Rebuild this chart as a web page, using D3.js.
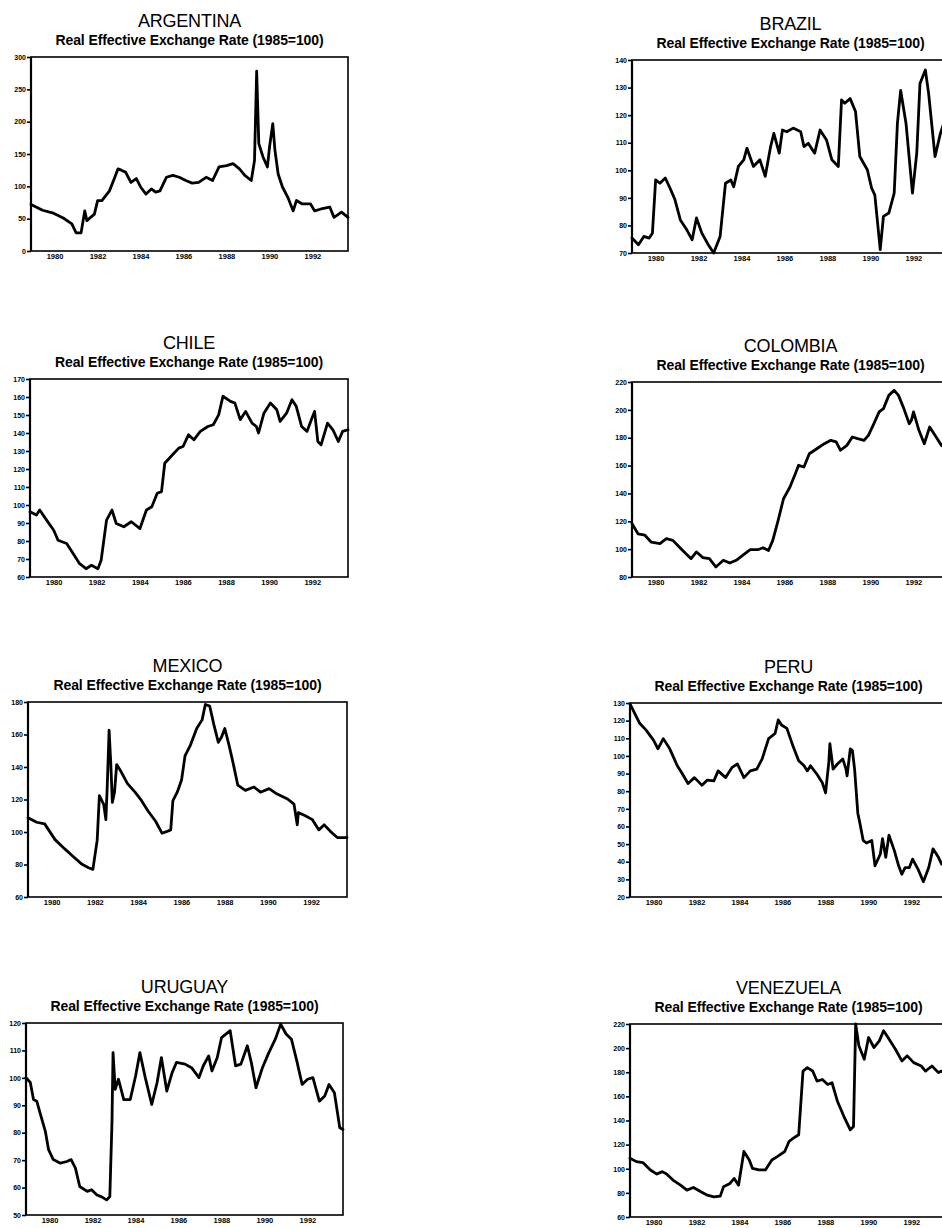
<!DOCTYPE html>
<html>
<head>
<meta charset="utf-8">
<script src="https://cdn.jsdelivr.net/npm/d3@7"></script>
<style>
  html, body { margin: 0; padding: 0; background: #fff; }
  svg { display: block; }
</style>
</head>
<body>
<svg id="chart" width="942" height="1228"></svg>
<script>
// ---------------- DATA ----------------
const countries = ["ARGENTINA", "BRAZIL", "CHILE", "COLOMBIA", "MEXICO", "PERU", "URUGUAY", "VENEZUELA"];
const subtitle = "Real Effective Exchange Rate (1985=100)";
const yearTicks = [1980, 1982, 1984, 1986, 1988, 1990, 1992];

// y-axis tick values for each panel
const argentinaTicks = [0, 50, 100, 150, 200, 250, 300];
const brazilTicks = [70, 80, 90, 100, 110, 120, 130, 140];
const chileTicks = [60, 70, 80, 90, 100, 110, 120, 130, 140, 150, 160, 170];
const colombiaTicks = [80, 100, 120, 140, 160, 180, 200, 220];
const mexicoTicks = [60, 80, 100, 120, 140, 160, 180];
const peruTicks = [20, 30, 40, 50, 60, 70, 80, 90, 100, 110, 120, 130];
const uruguayTicks = [50, 60, 70, 80, 90, 100, 110, 120];
const venezuelaTicks = [60, 80, 100, 120, 140, 160, 180, 200, 220];

// series: [decimal year, index value]
const argentina = [[1979.0,72],[1979.54,63],[1980.0,59],[1980.5,51],[1980.9,42],[1981.1,28],[1981.33,28],[1981.5,62],[1981.6,47],[1981.95,57],[1982.1,78],[1982.3,78],[1982.65,93],[1982.9,114],[1983.05,127],[1983.2,125],[1983.4,122],[1983.65,106],[1983.9,112],[1984.1,99],[1984.35,88],[1984.6,96],[1984.8,91],[1985.0,93],[1985.3,114],[1985.6,117],[1985.9,114],[1986.2,109],[1986.5,105],[1986.8,106],[1987.15,114],[1987.45,109],[1987.75,130],[1988.1,132],[1988.4,135],[1988.7,127],[1988.95,117],[1989.25,109],[1989.4,140],[1989.5,278],[1989.6,166],[1989.8,145],[1990.0,130],[1990.1,161],[1990.25,197],[1990.35,156],[1990.5,119],[1990.7,99],[1990.95,83],[1991.2,62],[1991.35,78],[1991.6,73],[1992.0,73],[1992.2,62],[1992.5,65],[1992.9,68],[1993.1,52],[1993.45,60],[1993.75,52]];
const brazil = [[1979.0,75.5],[1979.08,74.8],[1979.3,73],[1979.55,76],[1979.8,75.4],[1979.95,77.2],[1980.1,96.5],[1980.3,95.3],[1980.55,97.2],[1980.8,93],[1981.0,89.3],[1981.25,82],[1981.55,78.4],[1981.8,74.8],[1982.0,82.7],[1982.25,77.2],[1982.55,73],[1982.8,70],[1983.1,76],[1983.35,95.3],[1983.6,96.5],[1983.73,94],[1983.95,101.4],[1984.2,103.8],[1984.35,108],[1984.65,101.4],[1984.95,103.8],[1985.2,97.8],[1985.45,108.6],[1985.6,113.4],[1985.85,106.2],[1986.0,114.6],[1986.2,114],[1986.5,115.3],[1986.85,114],[1987.0,108.6],[1987.2,109.8],[1987.5,106.2],[1987.75,114.6],[1988.05,111],[1988.3,103.8],[1988.6,101.4],[1988.75,125.5],[1988.9,124.3],[1989.15,126],[1989.4,121.3],[1989.6,105],[1989.95,100.2],[1990.15,93.5],[1990.3,91],[1990.55,71.2],[1990.7,83.3],[1990.95,84.5],[1991.2,91.7],[1991.35,117],[1991.5,129],[1991.75,117],[1992.05,91.7],[1992.25,106.2],[1992.4,131.5],[1992.65,136.4],[1992.8,128],[1993.1,105],[1993.35,113.4],[1993.5,117],[1993.75,120]];
const chile = [[1979.0,96.2],[1979.3,94.4],[1979.45,97.2],[1979.77,91.6],[1980.1,86],[1980.3,80.4],[1980.7,78.6],[1981.0,73],[1981.3,67.4],[1981.6,64.6],[1981.85,66.5],[1982.15,64.6],[1982.3,69.3],[1982.55,91.6],[1982.8,97.2],[1983.0,89.7],[1983.35,87.9],[1983.7,90.7],[1984.1,86.9],[1984.4,97.2],[1984.65,99],[1984.9,106.5],[1985.1,107.4],[1985.25,123.2],[1985.6,127.8],[1985.9,131.6],[1986.1,132.5],[1986.35,139],[1986.6,136.2],[1986.9,140.9],[1987.25,143.6],[1987.5,144.6],[1987.75,150.1],[1987.95,160.4],[1988.3,157.6],[1988.5,156.7],[1988.75,147.4],[1989.0,152],[1989.3,145.5],[1989.5,143.6],[1989.6,140],[1989.85,151],[1990.15,156.7],[1990.45,152.9],[1990.6,146.4],[1990.9,151],[1991.15,158.5],[1991.35,154.8],[1991.6,143.6],[1991.85,140.9],[1992.05,147.4],[1992.2,152],[1992.35,135.3],[1992.5,133.4],[1992.8,145.5],[1993.05,141.8],[1993.3,135.3],[1993.5,140.9],[1993.75,141.8]];
const colombia = [[1979.0,118.3],[1979.28,111],[1979.6,110],[1979.9,105],[1980.3,104],[1980.6,107.5],[1980.9,106.3],[1981.2,101.5],[1981.5,96.8],[1981.75,93.2],[1982.0,98],[1982.3,93.9],[1982.6,93.2],[1982.9,87.2],[1983.25,92],[1983.55,90],[1983.85,92],[1984.15,95.6],[1984.5,99.6],[1984.85,99.6],[1985.1,101],[1985.35,99],[1985.55,106.3],[1985.8,120.7],[1986.05,136.2],[1986.35,144.6],[1986.6,154.2],[1986.75,160.2],[1987.0,159],[1987.25,168.5],[1987.6,172.1],[1987.95,175.7],[1988.25,178.1],[1988.5,177],[1988.7,171],[1989.0,174.5],[1989.25,180.5],[1989.5,179.3],[1989.8,178.1],[1990.0,181.7],[1990.25,190],[1990.5,198.5],[1990.7,200.9],[1990.95,210.4],[1991.2,214],[1991.4,210.4],[1991.65,200.9],[1991.9,190],[1992.0,192.5],[1992.1,198.5],[1992.35,185.3],[1992.6,175.7],[1992.85,187.7],[1993.15,180.5],[1993.4,174.5],[1993.75,172]];
const mexico = [[1979.0,108.7],[1979.4,106],[1979.77,105],[1980.25,95.3],[1980.7,89.6],[1981.1,84.8],[1981.5,80.1],[1981.8,78],[1982.0,77],[1982.2,95],[1982.3,122.4],[1982.5,117],[1982.6,107.6],[1982.66,126.7],[1982.75,162.6],[1982.83,141.5],[1982.9,118.2],[1983.0,124.5],[1983.1,141.5],[1983.3,137.2],[1983.6,129.8],[1983.95,124.5],[1984.25,119.3],[1984.55,112.9],[1984.9,106.6],[1985.2,99.2],[1985.4,100.2],[1985.6,101.3],[1985.7,119.3],[1985.9,124.5],[1986.1,132],[1986.26,146.8],[1986.5,153.1],[1986.8,163.7],[1987.05,169],[1987.2,178.5],[1987.4,177.5],[1987.6,165.8],[1987.8,155.2],[1987.95,158.4],[1988.1,163.7],[1988.3,153.1],[1988.5,141.5],[1988.7,128.8],[1989.05,125.6],[1989.45,127.7],[1989.75,124.5],[1990.15,126.7],[1990.5,123.5],[1991.0,120.3],[1991.3,117.1],[1991.45,104.4],[1991.5,111.9],[1991.8,110.2],[1992.15,107.6],[1992.45,101.3],[1992.7,104.4],[1993.0,100.2],[1993.3,96.6],[1993.75,96.6]];
const peru = [[1979.0,129.5],[1979.45,118.5],[1979.75,114.6],[1980.1,108.8],[1980.3,104],[1980.55,109.8],[1980.85,104],[1981.2,94.4],[1981.4,90.6],[1981.7,84.4],[1982.0,87.7],[1982.35,83.3],[1982.6,86.3],[1982.9,85.8],[1983.1,91.5],[1983.45,87.7],[1983.75,93.5],[1984.0,95.4],[1984.3,87.7],[1984.6,91.5],[1984.9,92.5],[1985.15,98.3],[1985.45,109.8],[1985.75,112.7],[1985.9,120.4],[1986.05,117.5],[1986.3,115.6],[1986.6,105],[1986.85,97.3],[1987.1,94.4],[1987.25,91.5],[1987.4,94.4],[1987.7,89.6],[1987.95,84.8],[1988.1,79],[1988.25,96.3],[1988.3,106.9],[1988.45,92.5],[1988.65,95.4],[1988.9,98.3],[1989.05,92.5],[1989.1,88.7],[1989.25,104],[1989.35,103],[1989.45,92.5],[1989.6,67.5],[1989.7,61.7],[1989.85,52.1],[1990.0,50.6],[1990.25,52.1],[1990.4,37.7],[1990.65,44.4],[1990.75,53.1],[1990.9,42.5],[1991.05,55],[1991.3,46.3],[1991.5,37.7],[1991.65,32.9],[1991.8,36.7],[1992.0,36.7],[1992.15,41.5],[1992.4,35.8],[1992.65,28.7],[1992.9,36.7],[1993.1,47.3],[1993.35,42.5],[1993.5,38.7],[1993.75,40]];
const uruguay = [[1979.0,100.1],[1979.2,98.3],[1979.35,92.1],[1979.5,91.5],[1979.65,87.3],[1979.9,80.5],[1980.05,73.8],[1980.27,70.2],[1980.6,68.9],[1980.9,69.5],[1981.1,70.2],[1981.3,67.1],[1981.5,60.4],[1981.85,58.6],[1982.05,59.2],[1982.3,57.3],[1982.5,56.7],[1982.75,55.5],[1982.9,56.7],[1983.0,83.6],[1983.05,109.2],[1983.15,95.8],[1983.3,99.5],[1983.55,92.1],[1983.85,92.1],[1984.1,100.7],[1984.3,109.2],[1984.55,100.1],[1984.85,90.3],[1985.1,98.3],[1985.3,107.4],[1985.55,95.2],[1985.8,101.9],[1986.0,105.6],[1986.4,105],[1986.7,103.7],[1987.05,100.1],[1987.25,104.4],[1987.5,108],[1987.65,102.5],[1987.9,107.4],[1988.1,114.7],[1988.5,117.2],[1988.75,104.4],[1989.0,105],[1989.3,111.7],[1989.5,105],[1989.7,96.4],[1990.0,103.7],[1990.3,109.2],[1990.6,114.1],[1990.85,119.6],[1991.1,116],[1991.35,114.1],[1991.6,106.2],[1991.85,97.6],[1992.1,99.5],[1992.35,100.1],[1992.65,91.5],[1992.9,93.4],[1993.1,97.6],[1993.35,94.6],[1993.6,81.8],[1993.75,81.2]];
const venezuela = [[1979.0,108.7],[1979.3,105.9],[1979.6,105.1],[1979.95,99],[1980.25,95.6],[1980.5,97.6],[1980.7,95.6],[1981.0,90.6],[1981.35,86.4],[1981.65,82.3],[1981.95,84.5],[1982.3,80.9],[1982.6,78.1],[1982.9,76.7],[1983.2,77.3],[1983.35,85],[1983.65,87.8],[1983.85,92],[1984.05,86.4],[1984.3,114.3],[1984.55,107.3],[1984.7,100.3],[1985.0,99],[1985.3,99],[1985.6,107.3],[1985.85,110.1],[1986.2,114.3],[1986.4,122.6],[1986.6,125.4],[1986.85,128.2],[1987.05,181],[1987.25,183.8],[1987.5,181],[1987.7,172.7],[1987.95,174],[1988.2,169.9],[1988.4,171.3],[1988.65,156],[1988.95,143.5],[1989.25,132.3],[1989.4,135],[1989.5,220],[1989.65,201.9],[1989.9,190.8],[1990.1,208.8],[1990.35,200.5],[1990.6,206],[1990.8,214.4],[1991.05,207.5],[1991.35,199.1],[1991.65,189.4],[1991.9,193.6],[1992.2,188],[1992.55,185.2],[1992.75,181],[1993.05,185.2],[1993.35,179.7],[1993.5,181],[1993.75,178]];

const seriesList = [argentina, brazil, chile, colombia, mexico, peru, uruguay, venezuela];
const tickList = [argentinaTicks, brazilTicks, chileTicks, colombiaTicks, mexicoTicks, peruTicks, uruguayTicks, venezuelaTicks];

// ---------------- LAYOUT ----------------
const boxes = [
  {x0: 31, x1: 348, y0: 57, y1: 251},
  {x0: 632, x1: 949, y0: 60, y1: 253},
  {x0: 30, x1: 348, y0: 379, y1: 577},
  {x0: 632, x1: 949, y0: 382, y1: 577},
  {x0: 28, x1: 347, y0: 702, y1: 897},
  {x0: 630, x1: 947, y0: 703, y1: 897},
  {x0: 26, x1: 343, y0: 1023, y1: 1215},
  {x0: 630, x1: 947, y0: 1024, y1: 1217}
];

const svg = d3.select("#chart");
const FONT = "'Liberation Sans', Arial, Helvetica, sans-serif";

countries.forEach((name, i) => {
  const b = boxes[i];
  const ticks = tickList[i];
  const data = seriesList[i];
  const x = d3.scaleLinear().domain([1979, 1993.75]).range([b.x0, b.x1]);
  const y = d3.scaleLinear().domain([ticks[0], ticks[ticks.length - 1]]).range([b.y1, b.y0]);
  const g = svg.append("g");
  const cx = (b.x0 + b.x1) / 2;

  g.append("text").attr("x", cx).attr("y", b.y0 - 30)
    .attr("text-anchor", "middle").attr("font-family", FONT)
    .attr("font-size", 18).attr("fill", "#000").attr("letter-spacing", -0.2)
    .text(name);
  g.append("text").attr("x", cx).attr("y", b.y0 - 12)
    .attr("text-anchor", "middle").attr("font-family", FONT)
    .attr("font-size", 14).attr("font-weight", "bold").attr("fill", "#000")
    .attr("letter-spacing", -0.1)
    .text(subtitle);

  // y axis
  const yAxis = d3.axisLeft(y).tickValues(ticks).tickSize(4).tickPadding(1)
    .tickFormat(d3.format("d"));
  const ya = g.append("g").attr("transform", `translate(${b.x0},0)`).call(yAxis);
  ya.select(".domain").remove();
  ya.selectAll("line").attr("stroke", "#000").attr("stroke-width", 1.6);
  ya.selectAll("text").attr("font-family", FONT).attr("font-size", 7)
    .attr("font-weight", "bold").attr("fill", "#000");

  // x axis labels
  const xAxis = d3.axisBottom(x).tickValues(yearTicks).tickSize(0).tickPadding(3)
    .tickFormat(d3.format("d"));
  const xa = g.append("g").attr("transform", `translate(2,${b.y1})`).call(xAxis);
  xa.select(".domain").remove();
  xa.selectAll("text").attr("font-family", FONT).attr("font-size", 7.5)
    .attr("font-weight", "bold").attr("fill", "#000");

  // frame
  g.append("rect").attr("x", b.x0).attr("y", b.y0)
    .attr("width", b.x1 - b.x0).attr("height", b.y1 - b.y0)
    .attr("fill", "none").attr("stroke", "#000").attr("stroke-width", 1.6);
  g.append("line").attr("x1", b.x0).attr("x2", b.x0).attr("y1", b.y0).attr("y2", b.y1)
    .attr("stroke", "#000").attr("stroke-width", 2.2);

  const line = d3.line().x(d => x(d[0])).y(d => y(d[1]));
  g.append("path").datum(data).attr("d", line)
    .attr("fill", "none").attr("stroke", "#000").attr("stroke-width", 2.8)
    .attr("stroke-linejoin", "round").attr("stroke-linecap", "round");
});
</script>
</body>
</html>
